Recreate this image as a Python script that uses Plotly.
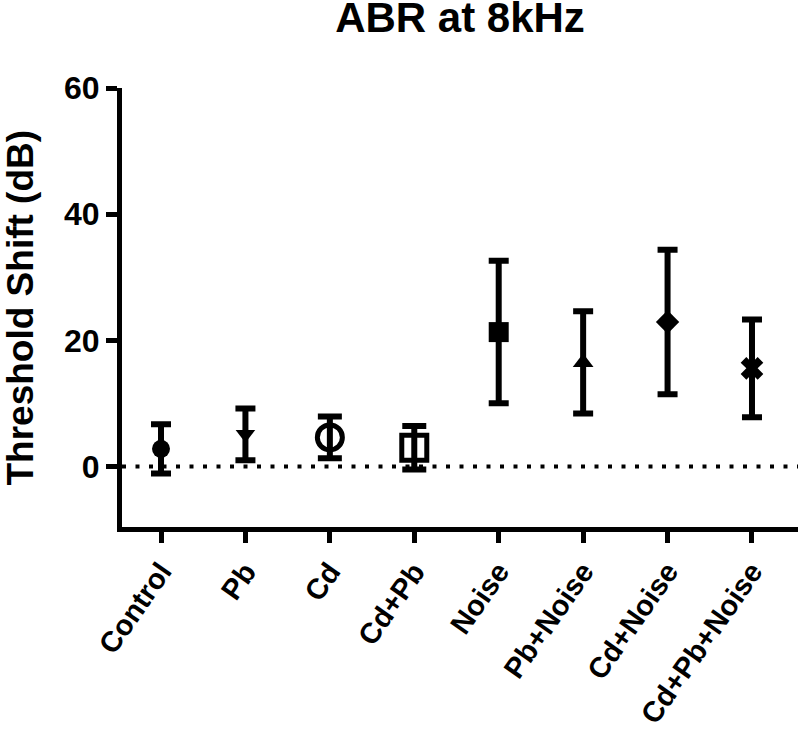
import plotly.graph_objects as go

groups = ["Control", "Pb", "Cd", "Cd+Pb", "Noise", "Pb+Noise", "Cd+Noise", "Cd+Pb+Noise"]
means = [2.8, 5.1, 4.6, 2.95, 21.3, 16.5, 22.9, 15.55]
errors = [3.9, 4.1, 3.3, 3.45, 11.3, 8.1, 11.45, 7.75]
y_ticks = [0, 20, 40, 60]

symbols = ["circle", "triangle-down", "circle-open", "square-open", "square",
           "triangle-up", "diamond", "x"]
sizes = [18, 17, 25, 25, 20, 18, 18, 20]
cap_half = [10, 10, 12, 12, 10, 10, 10, 10]

FONT = "Liberation Sans, Arial, sans-serif"

fig = go.Figure()
for i, g in enumerate(groups):
    fig.add_trace(go.Scatter(
        x=[g], y=[means[i]], mode="markers",
        marker=dict(symbol=symbols[i], size=sizes[i], color="black",
                    line=dict(color="black", width=5 if "open" in symbols[i] else 0)),
        error_y=dict(type="data", array=[errors[i]], visible=True,
                     color="black", thickness=6, width=cap_half[i]),
        showlegend=False, cliponaxis=False,
    ))

fig.add_shape(type="line", xref="paper", x0=0, x1=1, yref="y", y0=0, y1=0,
              line=dict(color="black", width=4, dash="4px,9.5px"), layer="below")

fig.add_annotation(text="Threshold Shift (dB)", textangle=-90,
                   xref="paper", x=(20 - 122) / 676, xanchor="center",
                   yref="paper", y=0.5, yanchor="middle", showarrow=False,
                   font=dict(family=FONT, size=37, color="black", weight="bold"))

fig.update_layout(
    width=800, height=732,
    margin=dict(l=122, r=2, t=88, b=195),
    paper_bgcolor="white", plot_bgcolor="white",
    font=dict(family=FONT, color="black", weight="bold"),
    title=dict(text="ABR at 8kHz", x=(122 + 798) / 2 / 800, xanchor="center",
               y=1 - 3 / 732, yanchor="top",
               font=dict(family=FONT, size=42, color="black", weight="bold")),
    xaxis=dict(type="category", categoryorder="array", categoryarray=groups,
               range=[-0.462, 7.545], showline=True, linecolor="black", linewidth=5,
               ticks="outside", ticklen=11, tickwidth=5, tickcolor="black",
               tickangle=-55, tickfont=dict(family=FONT, size=29, color="black", weight="bold"),
               showgrid=False, zeroline=False),
    yaxis=dict(range=[-9.6, 60], tickvals=y_ticks, showline=True, linecolor="black",
               linewidth=5, ticks="outside", ticklen=11, tickwidth=5, tickcolor="black",
               tickfont=dict(family=FONT, size=32, color="black", weight="bold"),
               showgrid=False, zeroline=False),
)

fig.write_html("out.html", config={"displayModeBar": False},
               post_script="document.body.style.margin='0';")
